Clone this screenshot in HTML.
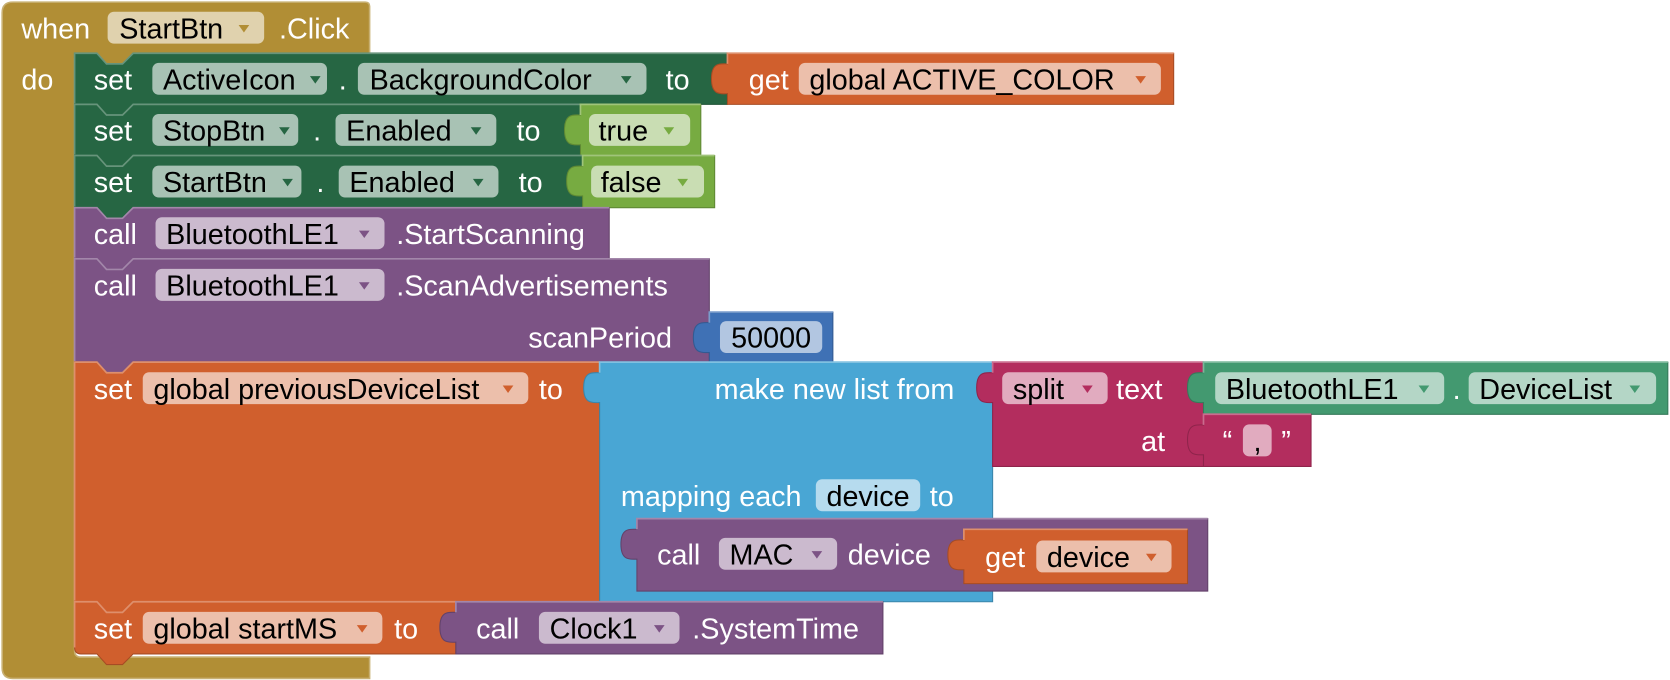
<!DOCTYPE html>
<html><head><meta charset="utf-8"><style>
html,body{margin:0;padding:0;background:#fff;width:1670px;height:680px;overflow:hidden}
svg{display:block}
text{font-family:"Liberation Sans",Arial,sans-serif;font-size:27px}
.w{fill:#fff}.k{fill:#000}
.hl{fill:none;stroke-width:1.6}
</style></head><body>
<svg width="1670" height="680" viewBox="0 0 1568 638.5" xmlns="http://www.w3.org/2000/svg">
<!-- event block -->
<path d="M2,12 Q2,2 12,2 H343 Q347,2 347,6 V50 H125 L115,60 H100 L91,50 H76 Q70,50 70,56 V611 Q70,617 76,617 H347 V637 H12 Q2,637 2,627 Z" fill="#B18E35" stroke="#C8B072" stroke-width="1.5"/>
<rect x="101" y="11" width="147" height="30" rx="6" fill="#E0D2AE"/>
<text x="20" y="36" class="w">when</text>
<text x="112" y="36" class="k">StartBtn</text>
<path d="M224,23.5 H234 L229,30.5 Z" fill="#B18E35"/>
<text x="262" y="36" class="w">.Click</text>
<text x="20" y="84" class="w">do</text>

<!-- row1 -->
<path d="M70,50 H91 L100,60 H115 L125,50 H683 V98 H125 L115,108 H100 L91,98 H70 Z" fill="#266643" stroke="#1E5236"/>
<path class="hl" d="M70,97 V50 H91 L100,60 H115 L125,50 H683" stroke="#67947B"/>
<text x="88" y="84" class="w">set</text>
<rect x="143" y="59" width="164" height="30" rx="6" fill="#A8C2B4"/>
<text x="153" y="84" class="k">ActiveIcon</text>
<path d="M291,71.5 H301 L296,78.5 Z" fill="#266643"/>
<text x="318" y="84" class="w">.</text>
<rect x="336" y="59" width="271" height="30" rx="6" fill="#A8C2B4"/>
<text x="347" y="84" class="k">BackgroundColor</text>
<path d="M583,71.5 H593 L588,78.5 Z" fill="#266643"/>
<text x="625" y="84" class="w">to</text>
<path d="M683,50 H1102 V98 H683 V88 C677,88 668,90 668,74 C668,58 677,60 683,60 Z" fill="#D05F2D" stroke="#A64C24"/>
<path class="hl" d="M683,60 V50 H1102" stroke="#DE8F6C"/>
<text x="703" y="84" class="w">get</text>
<rect x="750" y="59" width="340" height="30" rx="6" fill="#ECBFAB"/>
<text x="760" y="84" class="k">global ACTIVE_COLOR</text>
<path d="M1066,71.5 H1076 L1071,78.5 Z" fill="#D05F2D"/>

<!-- row2 -->
<path d="M70,98 H91 L100,108 H115 L125,98 H545 V146 H125 L115,156 H100 L91,146 H70 Z" fill="#266643" stroke="#1E5236"/>
<path class="hl" d="M70,145 V98 H91 L100,108 H115 L125,98 H545" stroke="#67947B"/>
<text x="88" y="132" class="w">set</text>
<rect x="143" y="107" width="137" height="30" rx="6" fill="#A8C2B4"/>
<text x="153" y="132" class="k">StopBtn</text>
<path d="M262,119.5 H272 L267,126.5 Z" fill="#266643"/>
<text x="294" y="132" class="w">.</text>
<rect x="315" y="107" width="151" height="30" rx="6" fill="#A8C2B4"/>
<text x="325" y="132" class="k">Enabled</text>
<path d="M442,119.5 H452 L447,126.5 Z" fill="#266643"/>
<text x="485" y="132" class="w">to</text>
<path d="M545,98 H658 V146 H545 V136 C539,136 530,138 530,122 C530,106 539,108 545,108 Z" fill="#77AB41" stroke="#5F8934"/>
<path class="hl" d="M545,108 V98 H658" stroke="#A0C47A"/>
<rect x="553" y="107" width="95" height="30" rx="6" fill="#C9DDB3"/>
<text x="562" y="132" class="k">true</text>
<path d="M623,119.5 H633 L628,126.5 Z" fill="#77AB41"/>

<!-- row3 -->
<path d="M70,146 H91 L100,156 H115 L125,146 H547 V195 H125 L115,205 H100 L91,195 H70 Z" fill="#266643" stroke="#1E5236"/>
<path class="hl" d="M70,194 V146 H91 L100,156 H115 L125,146 H547" stroke="#67947B"/>
<text x="88" y="180.5" class="w">set</text>
<rect x="143" y="155.5" width="140" height="30" rx="6" fill="#A8C2B4"/>
<text x="153" y="180.5" class="k">StartBtn</text>
<path d="M265,168 H275 L270,175 Z" fill="#266643"/>
<text x="297" y="180.5" class="w">.</text>
<rect x="318" y="155.5" width="150" height="30" rx="6" fill="#A8C2B4"/>
<text x="328" y="180.5" class="k">Enabled</text>
<path d="M444,168 H454 L449,175 Z" fill="#266643"/>
<text x="487" y="180.5" class="w">to</text>
<path d="M547,146 H671 V195 H547 V184 C541,184 532,186 532,170 C532,154 541,156 547,156 Z" fill="#77AB41" stroke="#5F8934"/>
<path class="hl" d="M547,156 V146 H671" stroke="#A0C47A"/>
<rect x="555" y="155.5" width="106" height="30" rx="6" fill="#C9DDB3"/>
<text x="564" y="180.5" class="k">false</text>
<path d="M636,168 H646 L641,175 Z" fill="#77AB41"/>

<!-- row4 -->
<path d="M70,195 H91 L100,205 H115 L125,195 H572 V243 H125 L115,253 H100 L91,243 H70 Z" fill="#7C5385" stroke="#63426A"/>
<path class="hl" d="M70,242 V195 H91 L100,205 H115 L125,195 H572" stroke="#A387AA"/>
<text x="88" y="229" class="w">call</text>
<rect x="146" y="204" width="215" height="30" rx="6" fill="#CBBACE"/>
<text x="156" y="229" class="k">BluetoothLE1</text>
<path d="M337,216.5 H347 L342,223.5 Z" fill="#7C5385"/>
<text x="372" y="229" class="w">.StartScanning</text>

<!-- row5 -->
<path d="M70,243 H91 L100,253 H115 L125,243 H666 V340 H125 L115,350 H100 L91,340 H70 Z" fill="#7C5385" stroke="#63426A"/>
<path class="hl" d="M70,339 V243 H91 L100,253 H115 L125,243 H666" stroke="#A387AA"/>
<text x="88" y="277.5" class="w">call</text>
<rect x="146" y="252.5" width="215" height="30" rx="6" fill="#CBBACE"/>
<text x="156" y="277.5" class="k">BluetoothLE1</text>
<path d="M337,265 H347 L342,272 Z" fill="#7C5385"/>
<text x="372" y="277.5" class="w">.ScanAdvertisements</text>
<text x="631" y="326.5" class="w" text-anchor="end">scanPeriod</text>
<path d="M666,293 H782 V340 H666 V331 C660,331 651,333 651,317 C651,301 660,303 666,303 Z" fill="#3F71B5" stroke="#325A91"/>
<path class="hl" d="M666,303 V293 H782" stroke="#799CCB"/>
<rect x="676" y="301.5" width="96" height="30" rx="6" fill="#B2C6E1"/>
<text x="724" y="326.5" class="k" text-anchor="middle">50000</text>

<!-- row6 -->
<path d="M70,340 H91 L100,350 H115 L125,340 H563 V565 H125 L115,575 H100 L91,565 H70 Z" fill="#D05F2D" stroke="#A64C24"/>
<path class="hl" d="M70,564 V340 H91 L100,350 H115 L125,340 H563" stroke="#DE8F6C"/>
<text x="88" y="374.5" class="w">set</text>
<rect x="134" y="349.5" width="362" height="30" rx="6" fill="#ECBFAB"/>
<text x="144" y="374.5" class="k">global previousDeviceList</text>
<path d="M472,362 H482 L477,369 Z" fill="#D05F2D"/>
<text x="506" y="374.5" class="w">to</text>

<path d="M563,340 H932 V565 H563 V378 C557,378 548,380 548,364 C548,348 557,350 563,350 Z" fill="#49A6D4" stroke="#3A85AA"/>
<path class="hl" d="M563,350 V340 H932" stroke="#80C1E1"/>
<text x="896" y="374.5" class="w" text-anchor="end">make new list from</text>
<text x="583" y="475" class="w">mapping each</text>
<rect x="766" y="450" width="98" height="30" rx="6" fill="#B6DBEE"/>
<text x="815" y="475" class="k" text-anchor="middle">device</text>
<text x="873" y="475" class="w">to</text>

<path d="M932,340 H1130 V438 H932 V378 C926,378 917,380 917,364 C917,348 926,350 932,350 Z" fill="#B32D5E" stroke="#8F244B"/>
<path class="hl" d="M932,350 V340 H1130" stroke="#CA6C8E"/>
<rect x="941" y="349.5" width="99" height="30" rx="6" fill="#E1ABBF"/>
<text x="951" y="374.5" class="k">split</text>
<path d="M1016,362 H1026 L1021,369 Z" fill="#B32D5E"/>
<text x="1048" y="374.5" class="w">text</text>
<text x="1094" y="423.5" class="w" text-anchor="end">at</text>

<path d="M1130,340 H1566 V389 H1130 V378 C1124,378 1115,380 1115,364 C1115,348 1124,350 1130,350 Z" fill="#439970" stroke="#367A5A"/>
<path class="hl" d="M1130,350 V340 H1566" stroke="#7BB89B"/>
<rect x="1141" y="349.5" width="215" height="30" rx="6" fill="#B4D6C6"/>
<text x="1151" y="374.5" class="k">BluetoothLE1</text>
<path d="M1332,362 H1342 L1337,369 Z" fill="#439970"/>
<text x="1364" y="374.5" class="w">.</text>
<rect x="1379" y="349.5" width="176" height="30" rx="6" fill="#B4D6C6"/>
<text x="1389" y="374.5" class="k">DeviceList</text>
<path d="M1530,362 H1540 L1535,369 Z" fill="#439970"/>

<path d="M1130,389 H1231 V438 H1130 V427 C1124,427 1115,429 1115,413 C1115,397 1124,399 1130,399 Z" fill="#B32D5E" stroke="#8F244B"/>
<path class="hl" d="M1130,399 V389 H1231" stroke="#CA6C8E"/>
<text x="1148" y="423.5" class="w">“</text>
<rect x="1167" y="398.5" width="27" height="30" rx="6" fill="#E1ABBF"/>
<text x="1177" y="423.5" class="k">,</text>
<text x="1203" y="423.5" class="w">”</text>

<path d="M598,487 H1134 V555 H598 V525 C592,525 583,527 583,511 C583,495 592,497 598,497 Z" fill="#7C5385" stroke="#63426A"/>
<path class="hl" d="M598,497 V487 H1134" stroke="#A387AA"/>
<text x="617" y="530" class="w">call</text>
<rect x="675" y="505" width="111" height="30" rx="6" fill="#CBBACE"/>
<text x="685" y="530" class="k">MAC</text>
<path d="M762,517.5 H772 L767,524.5 Z" fill="#7C5385"/>
<text x="796" y="530" class="w">device</text>

<path d="M905,497 H1115 V548 H905 V535 C899,535 890,537 890,521 C890,505 899,507 905,507 Z" fill="#D05F2D" stroke="#A64C24"/>
<path class="hl" d="M905,507 V497 H1115" stroke="#DE8F6C"/>
<text x="925" y="532.5" class="w">get</text>
<rect x="973" y="507.5" width="127" height="30" rx="6" fill="#ECBFAB"/>
<text x="983" y="532.5" class="k">device</text>
<path d="M1076,520 H1086 L1081,527 Z" fill="#D05F2D"/>

<!-- row7 -->
<path d="M70,565 H91 L100,575 H115 L125,565 H428 V614 H125 L115,624 H100 L91,614 H76 Q70,614 70,608 Z" fill="#D05F2D" stroke="#A64C24"/>
<path class="hl" d="M70,608 V565 H91 L100,575 H115 L125,565 H428" stroke="#DE8F6C"/>
<text x="88" y="599.5" class="w">set</text>
<rect x="134" y="574.5" width="225" height="30" rx="6" fill="#ECBFAB"/>
<text x="144" y="599.5" class="k">global startMS</text>
<path d="M335,587 H345 L340,594 Z" fill="#D05F2D"/>
<text x="370" y="599.5" class="w">to</text>
<path d="M428,565 H829 V614 H428 V603 C422,603 413,605 413,589 C413,573 422,575 428,575 Z" fill="#7C5385" stroke="#63426A"/>
<path class="hl" d="M428,575 V565 H829" stroke="#A387AA"/>
<text x="447" y="599.5" class="w">call</text>
<rect x="506" y="574.5" width="132" height="30" rx="6" fill="#CBBACE"/>
<text x="516" y="599.5" class="k">Clock1</text>
<path d="M614,587 H624 L619,594 Z" fill="#7C5385"/>
<text x="650" y="599.5" class="w">.SystemTime</text>
</svg>
</body></html>
